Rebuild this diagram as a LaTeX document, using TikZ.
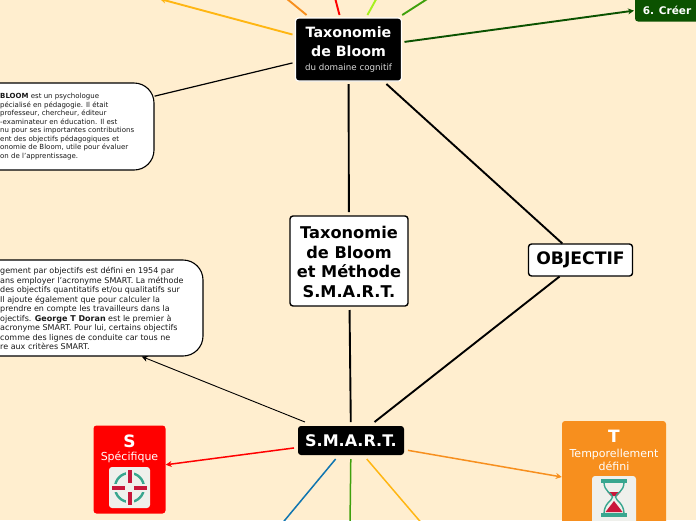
\documentclass[tikz,border=0pt]{standalone}
\usepackage{fontspec}
\setmainfont{DejaVu Sans}
\usetikzlibrary{arrows.meta}
\definecolor{paper}{HTML}{FFEECF}
\definecolor{cardred}{HTML}{FF0000}
\definecolor{cardorange}{HTML}{F78F1E}
\definecolor{darkgreen}{HTML}{0B5200}
\definecolor{amber}{HTML}{FFB612}
\definecolor{lime}{HTML}{A6F01E}
\definecolor{midgreen}{HTML}{3FA00C}
\definecolor{linkblue}{HTML}{0F75B0}
\definecolor{tile}{HTML}{EFF0EC}
\definecolor{teal}{HTML}{38A68F}
\definecolor{crimson}{HTML}{C9163A}
\tikzset{
  mainbox/.style={rectangle,rounded corners=3pt,fill=black,text=white,align=center,font=\bfseries,inner sep=0pt,outer sep=4pt},
  whitebox/.style={rectangle,rounded corners=3pt,draw=black,line width=1.4pt,fill=white,text=black,align=center,font=\bfseries,inner sep=0pt,outer sep=4pt},
  notebox/.style={rectangle,rounded corners=20pt,draw=black,line width=1.1pt,fill=white,inner sep=0pt},
  notetext/.style={anchor=west,align=left,inner sep=0pt,text=black!90},
  card/.style={rectangle,rounded corners=3pt,inner sep=0pt},
  cardtext/.style={text=white,align=center,inner sep=0pt},
  link/.style={line width=1.9pt},
  thinlink/.style={line width=1.5pt},
  tip/.style={-{Stealth[length=6pt,width=6pt]}},
}
\begin{document}
\begin{tikzpicture}[x=1pt,y=-1pt]
  \useasboundingbox (0,0) rectangle (696,520);
  \clip (0,0) rectangle (696,520);
  \fill[paper] (0,0) rectangle (696,520);

  % main nodes
  \node [mainbox,draw=white,line width=1.2pt,minimum width=106pt,minimum height=63pt,outer sep=3pt] (bloom) at (348.5,49.5) {};
  \node [text=white,align=center,font=\fontsize{14.2}{19}\selectfont\bfseries,inner sep=0pt] (bloomtitle) at (348.5,41.5) {Taxonomie\\de Bloom};
  \node [text=white!85!black,inner sep=0pt,font=\fontsize{8.7}{11}\selectfont] (bloomsub) at (348.5,68.5) {du domaine cognitif};
  \node [whitebox,minimum width=118pt,minimum height=90pt] (center) at (349,261) {};
  \node [text=black,align=center,inner sep=0pt,font=\fontsize{16.2}{19.4}\selectfont\bfseries] (centertext) at (349,262) {Taxonomie\\de Bloom\\et Méthode\\S.M.A.R.T.};
  \node [whitebox,minimum width=104pt,minimum height=32pt,font=\fontsize{17.2}{19}\selectfont\bfseries,outer sep=0.5pt] (objectif) at (580.5,260) {OBJECTIF};
  \node [mainbox,minimum width=106pt,minimum height=29pt,font=\fontsize{16}{18}\selectfont\bfseries] (smart) at (351,440.5) {S.M.A.R.T.};
  \node [card,fill=darkgreen,minimum width=66pt,minimum height=31pt,outer sep=1pt] (creer) at (668,6) {};
  \node [text=white,inner sep=0pt,font=\fontsize{10.5}{13}\selectfont\bfseries] (creertext) at (667,10) {6. Créer};

  % notes, cut by the left edge
  \node [notebox,minimum width=252pt,minimum height=87pt] (bloomnote) at (28,126.5) {};
  \node [notetext,font=\fontsize{7}{8.45}\selectfont] (bloomnotetext) at (0,126.5) {\textbf{BLOOM} est un psychologue\\pécialisé en pédagogie. Il était\\professeur, chercheur, éditeur\\-examinateur en éducation. Il est\\nu pour ses importantes contributions\\ent des objectifs pédagogiques et\\onomie de Bloom, utile pour évaluer\\on de l'apprentissage.};
  \node [notebox,minimum width=364pt,minimum height=96pt] (smartnote) at (21,308) {};
  \node [notetext,font=\fontsize{8}{9.5}\selectfont] (smartnotetext) at (0,308.7) {gement par objectifs est défini en 1954 par\\ans employer l'acronyme SMART. La méthode\\des objectifs quantitatifs et/ou qualitatifs sur\\Il ajoute également que pour calculer la\\prendre en compte les travailleurs dans la\\ojectifs. \textbf{George T Doran} est le premier à\\acronyme SMART. Pour lui, certains objectifs\\comme des lignes de conduite car tous ne\\re aux critères SMART.};

  % cards
  \node [card,fill=cardred,minimum width=72pt,minimum height=88pt] (scard) at (129.5,469.5) {};
  \node [cardtext,font=\fontsize{17}{20}\selectfont\bfseries] (sletter) at (129.5,441.5) {S};
  \node [cardtext,font=\fontsize{11}{13}\selectfont] (sword) at (129.5,457) {Spécifique};
  \node [card,fill=tile,minimum width=41pt,minimum height=41pt] (stile) at (129.5,487.5) {};
  \node [card,fill=cardorange,minimum width=104pt,minimum height=130pt] (tcard) at (614,486) {};
  \node [cardtext,font=\fontsize{17}{20}\selectfont\bfseries] (tletter) at (614,436) {T};
  \node [cardtext,font=\fontsize{11}{13}\selectfont] (tword) at (614,459.5) {Temporellement\\défini};
  \node [card,fill=tile,minimum width=44pt,minimum height=60pt] (ttile) at (614,506) {};

  % target icon
  \draw[teal,line width=2.4pt] (129.5,487.5) circle (14.5);
  \draw[tile,line width=8pt] (129.5,470) -- (129.5,483);
  \draw[tile,line width=8pt] (129.5,492) -- (129.5,505);
  \draw[tile,line width=8pt] (112,487.5) -- (125,487.5);
  \draw[tile,line width=8pt] (134,487.5) -- (147,487.5);
  \draw[crimson,line width=4pt] (129.5,470) -- (129.5,483);
  \draw[crimson,line width=4pt] (129.5,492) -- (129.5,505);
  \draw[crimson,line width=4pt] (112,487.5) -- (125,487.5);
  \draw[crimson,line width=4pt] (134,487.5) -- (147,487.5);

  % hourglass icon
  \fill[crimson] (607.5,492) -- (620.5,492) -- (617,496) -- (611,496) -- cycle;
  \fill[crimson] (614,501) -- (622.5,512) -- (605.5,512) -- cycle;
  \draw[teal,line width=1.4pt] (604,482) .. controls (604,492) and (612,493) .. (612.5,497) .. controls (612,501) and (604,503) .. (604,514);
  \draw[teal,line width=1.4pt] (624,482) .. controls (624,492) and (616,493) .. (615.5,497) .. controls (616,501) and (624,503) .. (624,514);
  \fill[teal] (601,479) rectangle (627,483);
  \fill[teal] (601,513) rectangle (627,517);

  % free ends
  \coordinate (offa) at (160,-1);
  \coordinate (offb) at (281,-6);
  \coordinate (offc) at (334,-6);
  \coordinate (offd) at (379,-6);
  \coordinate (offe) at (435,-6);
  \coordinate (offf) at (280,526);
  \coordinate (offg) at (350,526);
  \coordinate (offh) at (424,526);

  % links
  \draw[link,black] (bloom) -- (center);
  \draw[link,black] (bloom) -- (objectif);
  \draw[link,black] (objectif) -- (smart);
  \draw[link,black] (center) -- (smart);
  \draw[black,line width=1.2pt] (bloom) -- (bloomnote);
  \draw[black,line width=0.9pt,tip] (smart) -- (smartnote);
  \draw[link,amber,tip] (bloom) -- (offa);
  \draw[link,cardorange] (bloom) -- (offb);
  \draw[link,red] (bloom) -- (offc);
  \draw[link,lime] (bloom) -- (offd);
  \draw[link,midgreen] (bloom) -- (offe);
  \draw[link,darkgreen,tip] (bloom) -- (creer);
  \draw[thinlink,red,tip] (smart) -- (scard);
  \draw[thinlink,cardorange,tip] (smart) -- (tcard);
  \draw[thinlink,linkblue] (smart) -- (offf);
  \draw[thinlink,midgreen] (smart) -- (offg);
  \draw[thinlink,amber] (smart) -- (offh);
\end{tikzpicture}
\end{document}
